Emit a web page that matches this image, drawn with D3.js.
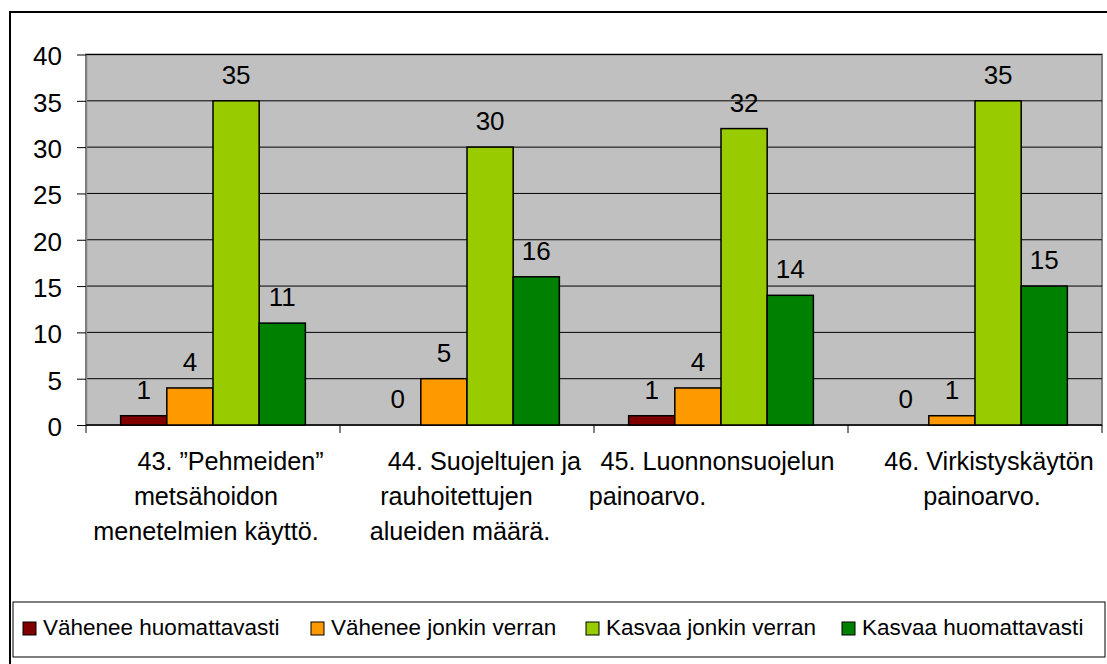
<!DOCTYPE html>
<html lang="fi">
  <head>
    <meta charset="utf-8" />
    <title>Metsien käyttö - kaavio</title>
    <script src="https://d3js.org/d3.v7.min.js"></script>
    <style>
      body { margin: 0; background: #fff; }
      text { font-family: "Liberation Sans", Arial, sans-serif; fill: #000; }
    </style>
  </head>
  <body>
    <div id="chart"></div>
    <script>
      // category labels, one entry per wrapped line (spaces kept as in the sheet)
      const categoryLines = [
        ["     43. \u201dPehmeiden\u201d", "metsähoidon  ", "menetelmien käyttö.  "],
        ["     44. Suojeltujen ja", "rauhoitettujen   ", "alueiden määrä.  "],
        ["45. Luonnonsuojelun ", "painoarvo.                     "],
        ["    46. Virkistyskäytön", "  painoarvo."]
      ];
      const categories = ["43", "44", "45", "46"];
      const seriesNames = [
        "Vähenee huomattavasti",
        "Vähenee jonkin verran",
        "Kasvaa jonkin verran",
        "Kasvaa huomattavasti"
      ];
      const vaheneeHuomattavasti = [1, 0, 1, 0];
      const vaheneeJonkin = [4, 5, 4, 1];
      const kasvaaJonkin = [35, 30, 32, 35];
      const kasvaaHuomattavasti = [11, 16, 14, 15];
      const yTicks = [0, 5, 10, 15, 20, 25, 30, 35, 40];

      const seriesValues = [vaheneeHuomattavasti, vaheneeJonkin, kasvaaJonkin, kasvaaHuomattavasti];
      const colors = ["#800000", "#ff9900", "#99cc00", "#008000"];

      const w = 1107;
      const h = 664;

      const svg = d3.select("#chart")
        .append("svg")
        .attr("width", w)
        .attr("height", h);

      // outer chart frame (runs off the right and bottom edge)
      svg.append("rect")
        .attr("x", 10).attr("y", 12)
        .attr("width", 1200).attr("height", 800)
        .attr("fill", "#fff")
        .attr("stroke", "#000")
        .attr("stroke-width", 2);

      const plot = { left: 86, right: 1102, top: 54.5, bottom: 425 };

      const x = d3.scaleBand()
        .domain(categories)
        .range([plot.left, plot.right]);

      // gap width 150% -> bar = band / 5.5
      const barW = x.bandwidth() / 5.5;
      const xs = d3.scaleBand()
        .domain(seriesNames)
        .range([0.75 * barW, 4.75 * barW]);

      const y = d3.scaleLinear()
        .domain([0, 40])
        .range([plot.bottom, plot.top]);

      // plot area
      svg.append("rect")
        .attr("x", plot.left).attr("y", plot.top)
        .attr("width", plot.right - plot.left)
        .attr("height", plot.bottom - plot.top)
        .attr("fill", "#c0c0c0")
        .attr("stroke", "#808080")
        .attr("stroke-width", 2);

      // gridlines
      svg.append("g")
        .selectAll("line")
        .data(yTicks.filter(d => d > 0))
        .join("line")
        .attr("x1", plot.left).attr("x2", plot.right)
        .attr("y1", d => y(d)).attr("y2", d => y(d))
        .attr("stroke", "#000")
        .attr("stroke-width", 1);

      // y axis
      const yAxis = svg.append("g")
        .attr("transform", `translate(${plot.left},0)`)
        .call(d3.axisLeft(y).tickValues(yTicks).tickSize(9).tickSizeOuter(0).tickPadding(15));
      yAxis.select(".domain").attr("stroke", "#808080").attr("stroke-width", 1.5);
      yAxis.selectAll(".tick line").attr("stroke", "#000");
      yAxis.selectAll(".tick text")
        .attr("font-size", 26)
        .attr("dy", "0.4em")
        .style("font-family", "'Liberation Sans', Arial, sans-serif");

      // x axis with ticks between categories
      const xAxisG = svg.append("g");
      xAxisG.append("line")
        .attr("x1", plot.left).attr("x2", plot.right)
        .attr("y1", plot.bottom).attr("y2", plot.bottom)
        .attr("stroke", "#000").attr("stroke-width", 1.5);
      const boundaries = categories.map(c => x(c)).concat([x.range()[1]]);
      xAxisG.selectAll("line.tk")
        .data(boundaries)
        .join("line")
        .attr("class", "tk")
        .attr("x1", d => d).attr("x2", d => d)
        .attr("y1", plot.bottom).attr("y2", plot.bottom + 8)
        .attr("stroke", "#000");

      // bars
      const rows = [];
      categories.forEach((c, i) => {
        seriesNames.forEach((s, j) => {
          rows.push({ cat: c, series: s, value: seriesValues[j][i], color: colors[j] });
        });
      });

      svg.append("g")
        .selectAll("rect")
        .data(rows.filter(d => d.value > 0))
        .join("rect")
        .attr("x", d => x(d.cat) + xs(d.series))
        .attr("y", d => y(d.value))
        .attr("width", xs.bandwidth())
        .attr("height", d => y(0) - y(d.value))
        .attr("fill", d => d.color)
        .attr("stroke", "#000")
        .attr("stroke-width", 1.5);

      // value labels
      svg.append("g")
        .selectAll("text")
        .data(rows)
        .join("text")
        .attr("x", d => x(d.cat) + xs(d.series) + xs.bandwidth() / 2)
        .attr("y", d => y(d.value) - 17)
        .attr("text-anchor", "middle")
        .attr("font-size", 26)
        .text(d => d.value);

      // category labels
      const catG = svg.append("g")
        .selectAll("text")
        .data(categories)
        .join("text")
        .attr("x", d => x(d) + x.bandwidth() / 2)
        .attr("y", 470)
        .attr("text-anchor", "middle")
        .attr("font-size", 25.2)
        .style("white-space", "pre");
      catG.selectAll("tspan")
        .data((d, i) => categoryLines[i])
        .join("tspan")
        .attr("x", function () { return d3.select(this.parentNode).attr("x"); })
        .attr("dy", (d, i) => i === 0 ? 0 : 35)
        .text(d => d);

      // legend
      const legend = svg.append("g");
      legend.append("rect")
        .attr("x", 13).attr("y", 602)
        .attr("width", 1092).attr("height", 55)
        .attr("fill", "#fff")
        .attr("stroke", "#000")
        .attr("stroke-width", 1);

      const legendX = [23, 311, 586, 842];
      const item = legend.selectAll("g.item")
        .data(seriesNames)
        .join("g")
        .attr("class", "item")
        .attr("transform", (d, i) => `translate(${legendX[i]},622)`);
      item.append("rect")
        .attr("width", 13).attr("height", 13)
        .attr("fill", (d, i) => colors[i])
        .attr("stroke", "#000")
        .attr("stroke-width", 1);
      item.append("text")
        .attr("x", 20)
        .attr("y", 12.5)
        .attr("font-size", 22.5)
        .text(d => d);
    </script>
  </body>
</html>
